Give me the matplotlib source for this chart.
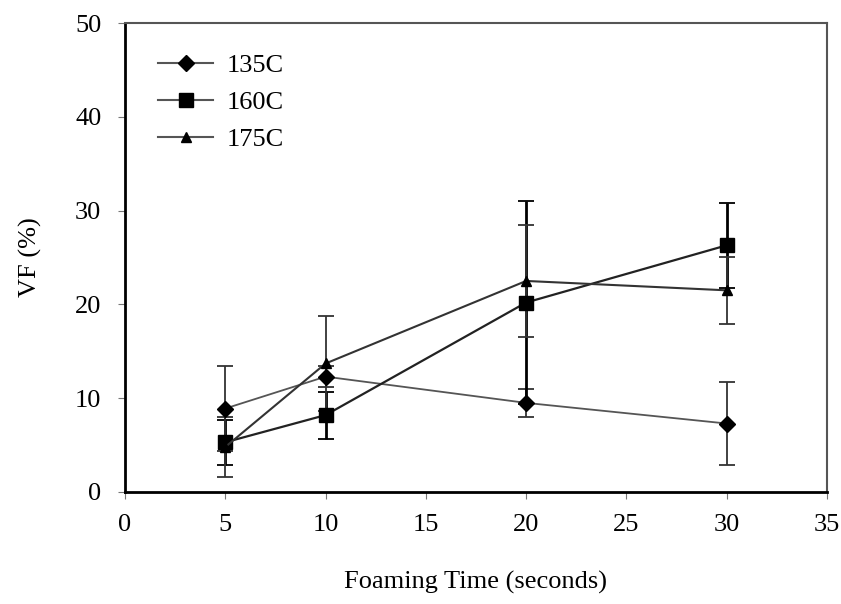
import matplotlib.pyplot as plt
from matplotlib.lines import Line2D

plt.rcParams['font.family'] = ['Liberation Serif', 'DejaVu Serif']

time = [5, 10, 20, 30]

vf_135 = [8.9, 12.3, 9.5, 7.3]
err_135 = [4.5, 1.1, 1.5, 4.4]

vf_160 = [5.3, 8.2, 20.2, 26.3]
err_160 = [2.4, 2.5, 10.8, 4.5]

vf_175 = [4.8, 13.7, 22.5, 21.5]
err_175 = [3.2, 5.1, 6.0, 3.6]

labels = ["135C", "160C", "175C"]

fig = plt.figure(figsize=(8.41, 6.04), dpi=100)
ax = fig.add_axes([125 / 841, 1 - 492 / 604, (827 - 125) / 841, (492 - 23) / 604])

ax.errorbar(time, vf_135, yerr=err_135, marker="D", markersize=8, color="#555555",
            mfc="black", mec="black", lw=1.3, ecolor="#333333", elinewidth=1.3,
            capsize=5.5, capthick=1.3)
ax.errorbar(time, vf_160, yerr=err_160, marker="s", markersize=10, color="#222222",
            mfc="black", mec="black", lw=1.6, ecolor="black", elinewidth=2,
            capsize=5.5, capthick=1.3)
ax.errorbar(time, vf_175, yerr=err_175, marker="^", markersize=7, color="#333333",
            mfc="black", mec="black", lw=1.5, ecolor="#333333", elinewidth=1.3,
            capsize=5.5, capthick=1.3)

ax.set_xlim(0, 35)
ax.set_ylim(0, 50)
ax.set_xticks(range(0, 36, 5))
ax.set_yticks(range(0, 51, 10))
ax.tick_params(labelsize=19, direction="out", length=5, color="#777777")
ax.tick_params(axis="y", pad=12)
ax.tick_params(axis="x", pad=11)

for side in ["left", "bottom"]:
    ax.spines[side].set_linewidth(2)
    ax.spines[side].set_color("black")
for side in ["top", "right"]:
    ax.spines[side].set_linewidth(1.5)
    ax.spines[side].set_color("#555555")

ax.set_xlabel("Foaming Time (seconds)", fontsize=19, labelpad=25)
ax.set_ylabel("VF (%)", fontsize=19, labelpad=24)

handles = [
    Line2D([], [], color="#555555", lw=1.5, marker="D", markersize=8, mfc="black", mec="black"),
    Line2D([], [], color="#555555", lw=1.5, marker="s", markersize=10, mfc="black", mec="black"),
    Line2D([], [], color="#555555", lw=1.5, marker="^", markersize=7, mfc="black", mec="black"),
]
ax.legend(handles, labels, loc="upper left", bbox_to_anchor=(158 / 841, 1 - 54 / 604),
          bbox_transform=fig.transFigure, frameon=False, fontsize=19, borderpad=0,
          borderaxespad=0, handlelength=2.1, labelspacing=0.5, handletextpad=0.5)

fig.savefig("out.png", dpi=100)
